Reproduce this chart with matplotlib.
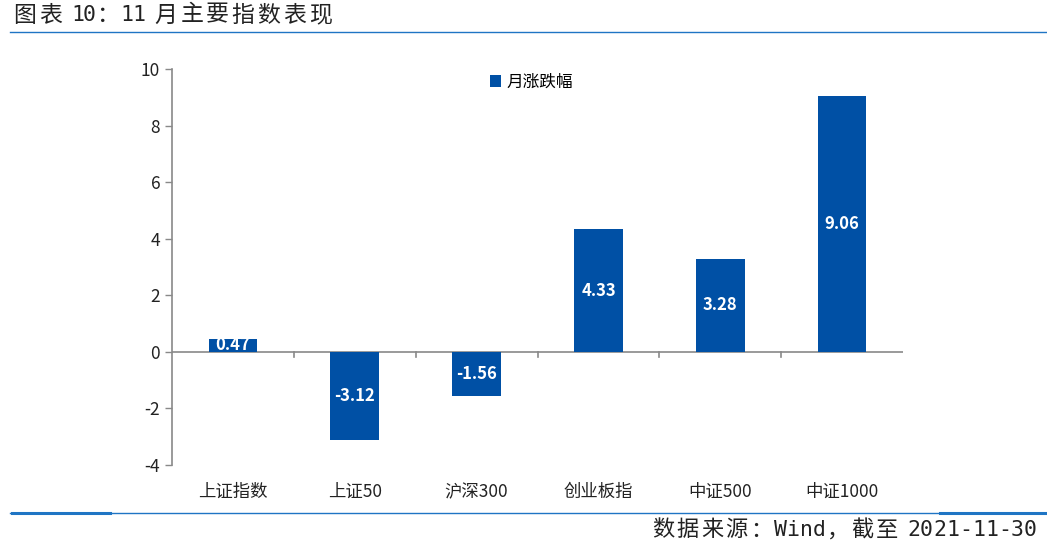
import numpy as np
import matplotlib
matplotlib.use('Agg')
import matplotlib.pyplot as plt
from matplotlib.lines import Line2D

plt.rcParams['font.family'] = ['Noto Sans CJK SC', 'DejaVu Sans']
plt.rcParams['axes.unicode_minus'] = False

categories = ['上证指数', '上证50', '沪深300', '创业板指', '中证500', '中证1000']
values = [0.47, -3.12, -1.56, 4.33, 3.28, 9.06]
series_name = '月涨跌幅'
title = '图表 10：11 月主要指数表现'
source = '数据来源：Wind，截至 2021-11-30'

bar_color = '#0050A5'
axis_color = '#898989'
line_color = '#1F75C4'
W, H = 1047, 544

fig = plt.figure(figsize=(W / 100, H / 100), dpi=100)
ax = fig.add_axes([0.1643, 0.1452, 0.6982, 0.728])

x = np.arange(len(categories))
ax.bar(x, values, width=0.4, color=bar_color, label=series_name, zorder=2)

for xi, v in zip(x, values):
    ax.text(xi, v / 2, f'{v:.2f}', ha='center', va='center', color='white',
            fontsize=12, fontweight='bold', zorder=3)

ax.set_xlim(-0.5, len(categories) - 0.5)
ax.set_ylim(-4, 10)
ax.set_yticks(np.arange(-4, 11, 2))
ax.tick_params(axis='y', labelsize=12.5, labelcolor='#222222', color=axis_color,
               length=5, width=1)

# category labels below the plot, zero line as x axis
ax.set_xticks([])
for xi, c in zip(x, categories):
    ax.text(xi, -4.95, c, ha='center', va='center', fontsize=12.5, color='#222222')
ax.axhline(0, color=axis_color, lw=1.2, zorder=1)
for b in np.arange(0.5, len(categories) - 0.5, 1.0):
    ax.plot([b, b], [0, -0.18], color=axis_color, lw=1.2, zorder=1)

for s in ['top', 'right', 'bottom']:
    ax.spines[s].set_visible(False)
ax.spines['left'].set_color(axis_color)
ax.spines['left'].set_linewidth(1.2)

ax.legend(loc='upper left', bbox_to_anchor=(0.414, 1.025), frameon=False,
          fontsize=12, handlelength=0.7, handleheight=0.7, handletextpad=0.3)


def cell_text(s, x0, y, cjk_w, latin_w, space_w, cjk_fs, latin_fs):
    # lay the characters out in fixed cells, like the original report font
    px = x0
    for ch in s:
        if ch == ' ':
            px += space_w
            continue
        if ord(ch) > 0x2E80:
            w, fam, fs = cjk_w, ['Noto Sans CJK SC'], cjk_fs
        else:
            w, fam, fs = latin_w, ['DejaVu Sans Mono'], latin_fs
        fig.text((px + w / 2) / W, 1 - y / H, ch, fontsize=fs, color='#222222',
                 ha='center', va='center', family=fam)
        px += w


cell_text(title, 12, 15, 25.7, 12, 8, 16.5, 15.5)
cell_text(source, 651, 530, 24.5, 13, 8, 16, 15.5)

fig.add_artist(Line2D([0.01, 1.0], [1 - 32 / H, 1 - 32 / H], color=line_color, lw=1.0))
fig.add_artist(Line2D([0.01, 1.0], [1 - 513 / H, 1 - 513 / H], color=line_color, lw=1.0))
fig.add_artist(Line2D([0.011, 0.105], [1 - 513 / H, 1 - 513 / H], color=line_color, lw=2.2))
fig.add_artist(Line2D([0.898, 1.0], [1 - 513 / H, 1 - 513 / H], color=line_color, lw=2.2))

fig.savefig('out.png', dpi=100)
